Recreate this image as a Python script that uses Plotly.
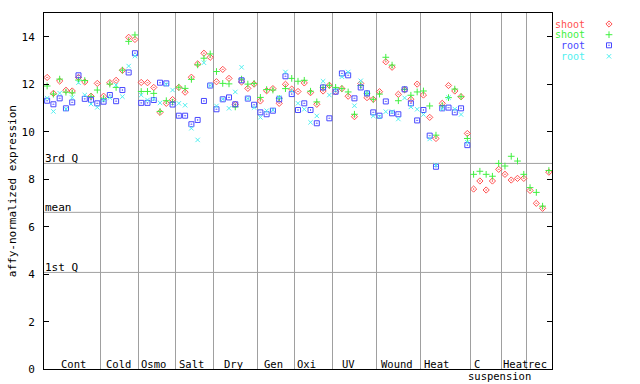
import plotly.graph_objects as go

# ---------------- data ----------------
groups = ["Cont", "Cold", "Osmo", "Salt", "Dry", "Gen", "Oxi", "UV", "Wound", "Heat", "C", "Heat", "rec"]
group_sizes = [9, 6, 6, 6, 7, 6, 6, 7, 7, 8, 5, 4, 4]
label_pos = [4.73, 11.8, 17.5, 23.55, 30.26, 36.64, 41.93, 48.55, 56.28, 62.55, 69.04, 75.2, 78.75]
sub_label = "suspension"
sub_label_pos = 72.7

shoot1 = [12.29, 11.62, 12.14, 11.75, 11.72, 12.29, 12.10, 11.50, 12.04,
          11.50, 12.07, 12.17, 12.59, 13.98, 13.89,
          12.08, 12.07, 11.87, 10.82, 11.20, 11.36,
          11.87, 11.67, 12.30, 12.86, 13.31, 13.14,
          12.11, 12.63, 12.25, 11.15, 12.10, 11.83, 12.01,
          11.30, 11.73, 11.82, 11.20, 12.00, 11.80,
          11.70, 12.06, 11.65, 11.16, 11.72, 11.96,
          11.69, 11.82, 11.50, 10.64, 12.04, 11.44, 11.37,
          11.69, 12.95, 12.72, 11.58, 11.77, 11.37, 12.01,
          11.55, 10.61, 9.72, 11.20, 11.95, 11.72, 11.48, 9.93,
          7.59, 7.93, 7.55, 7.93, 8.42,
          8.21, 7.97, 8.04, 8.04,
          7.53, 6.99, 6.78, 8.30]
shoot2 = [11.93, 11.59, 12.22, 11.67, 11.64, 12.18, 12.16, 11.49, 11.76,
          11.40, 12.01, 11.87, 12.60, 13.81, 14.08,
          11.70, 11.70, 11.62, 10.86, 11.31, 11.25,
          11.88, 11.83, 12.21, 12.82, 13.10, 13.28,
          12.54, 12.04, 12.02, 11.05, 12.22, 12.01, 12.04,
          11.45, 11.78, 11.76, 11.41, 11.82, 12.25,
          12.13, 12.17, 11.71, 11.26, 11.87, 11.96,
          11.87, 11.82, 11.68, 10.74, 11.95, 11.62, 11.37,
          11.59, 13.14, 12.81, 11.31, 11.79, 11.54, 11.68,
          11.72, 11.09, 9.86, 11.10, 11.44, 11.80, 11.48, 9.72,
          8.21, 8.34, 8.21, 8.13, 8.67,
          8.56, 8.97, 8.77, 8.21,
          7.65, 7.45, 6.87, 8.37]
root1 = [11.31, 11.16, 11.41, 10.99, 11.24, 12.38, 11.39, 11.35, 11.20,
         11.27, 11.55, 11.29, 11.76, 12.50, 13.31,
         11.22, 11.22, 11.34, 12.07, 12.04, 11.15,
         10.68, 10.68, 10.32, 10.50, 11.30, 11.95,
         10.95, 11.37, 11.45, 11.16, 12.17, 11.40, 11.14,
         10.82, 10.74, 10.89, 11.37, 12.34, 11.59,
         10.92, 11.20, 10.92, 10.36, 11.87, 10.57,
         11.69, 12.46, 12.38, 11.41, 11.87, 11.62, 10.82,
         10.68, 11.28, 10.78, 10.74, 11.79, 11.20, 10.48,
         10.92, 9.84, 8.53, 10.99, 11.02, 10.82, 10.99, 9.44] + [None] * 13
root2 = [11.42, 10.86, 11.63, 10.96, 11.44, 12.07, 11.55, 11.17, 11.03,
         11.35, 11.44, 11.97, 11.48, 12.77, 13.19,
         11.55, 11.34, 11.38, 11.22, 12.00, 11.76,
         11.20, 11.12, 10.15, 9.66, 12.91, 11.95,
         11.09, 11.37, 10.99, 11.68, 12.72, 11.40, 11.02,
         10.61, 10.89, 10.92, 11.45, 12.52, 11.73,
         11.20, 10.95, 10.40, 10.67, 12.13, 11.55,
         11.75, 12.32, 12.52, 11.10, 12.15, 11.62, 10.67,
         10.64, 10.85, 10.85, 10.54, 11.43, 11.05, 10.95,
         10.73, 9.70, 8.60, 10.97, 11.44, 10.96, 10.73, 9.56] + [None] * 13

quartile_names = ["3rd Q", "mean", "1st Q"]
quartile_values = [8.67, 6.61, 4.08]

legend_labels = ["shoot", "shoot", "root", "root"]
y_ticks = [0, 2, 4, 6, 8, 10, 12, 14]

# ---------------- styles ----------------
FONT = "DejaVu Sans Mono"
colors = ["#ff5050", "#40f040", "#4848ff", "#50f0f0"]
symbols = ["diamond-open-dot", "cross-thin-open", "square-open-dot", "x-thin-open"]
sizes = [4.8, 4.8, 5, 4.4]

W, H = 640, 384
L, R, T, B = 44, 552, 13.1, 369.3

n = sum(group_sizes)
xs = [i + 0.5 for i in range(n)]
bounds = []
acc = 0
for s in group_sizes[:-1]:
    acc += s
    bounds.append(acc)

fig = go.Figure()
series = [shoot1, shoot2, root1, root2]
for k, ser in enumerate(series):
    fig.add_trace(go.Scatter(
        x=xs, y=ser, mode="markers", name=legend_labels[k], showlegend=False,
        marker=dict(symbol=symbols[k], size=sizes[k], color=colors[k],
                    line=dict(color=colors[k], width=1)),
        xaxis="x", yaxis="y", cliponaxis=False))

# custom legend (text right, marker to its right)
leg_y = [24, 34.7, 45.3, 56.3]
for k in range(4):
    fig.add_trace(go.Scatter(
        x=[609], y=[leg_y[k]], mode="markers", showlegend=False,
        marker=dict(symbol=symbols[k], size=sizes[k], color=colors[k],
                    line=dict(color=colors[k], width=1)),
        xaxis="x2", yaxis="y2"))
    fig.add_annotation(x=586, y=leg_y[k], xref="x2", yref="y2", text=legend_labels[k],
                       showarrow=False, xanchor="right", yanchor="middle", borderpad=0,
                       font=dict(family=FONT, size=10, color=colors[k]))

shapes = []
for q in quartile_values:
    shapes.append(dict(type="line", xref="x", yref="y", x0=0, x1=n, y0=q, y1=q,
                       line=dict(color="#a0a0a0", width=1), layer="below"))
for name, q in zip(quartile_names, quartile_values):
    fig.add_annotation(x=0, y=q, xref="x", yref="y", text=name, showarrow=False,
                       xanchor="left", yanchor="bottom", xshift=0, yshift=-3, borderpad=0,
                       font=dict(family=FONT, size=11, color="black"))
for g, p in zip(groups, label_pos):
    fig.add_annotation(x=p, y=0, xref="x", yref="y", text=g, showarrow=False,
                       xanchor="center", yanchor="middle", yshift=5, borderpad=0,
                       font=dict(family=FONT, size=10.5, color="black"))
fig.add_annotation(x=sub_label_pos, y=0, xref="x", yref="y", text=sub_label, showarrow=False,
                   xanchor="center", yanchor="middle", yshift=-7, borderpad=0,
                   font=dict(family=FONT, size=10.5, color="black"))
fig.add_annotation(x=0, y=7.5, xref="x", yref="y", text="affy-normalized expression",
                   showarrow=False, textangle=-90, xanchor="center", yanchor="middle",
                   xshift=-32, font=dict(family=FONT, size=11, color="black"))

fig.update_layout(
    width=W, height=H, autosize=False,
    margin=dict(l=0, r=0, t=0, b=0),
    paper_bgcolor="white", plot_bgcolor="rgba(0,0,0,0)",
    showlegend=False, shapes=shapes,
    font=dict(family=FONT, size=11, color="black"),
    xaxis=dict(domain=[L / W, R / W], range=[0, n], tickvals=bounds, showticklabels=False,
               ticks="", showgrid=True, gridcolor="#a0a0a0", gridwidth=1,
               showline=True, linecolor="black", linewidth=1, mirror=True,
               zeroline=False, anchor="y", automargin=False),
    yaxis=dict(domain=[(H - B) / H, (H - T) / H], range=[0, 15], tickvals=y_ticks,
               ticks="inside", ticklen=5, tickcolor="black", showgrid=False,
               showline=True, linecolor="black", linewidth=1, mirror="ticks",
               zeroline=False, anchor="x", automargin=False, ticklabelstandoff=6,
               tickfont=dict(family=FONT, size=11, color="black")),
    xaxis2=dict(domain=[0, 1], range=[0, W], visible=False, anchor="y2", fixedrange=True),
    yaxis2=dict(domain=[0, 1], range=[H, 0], visible=False, anchor="x2", fixedrange=True),
)

fig.write_html("out.html")
